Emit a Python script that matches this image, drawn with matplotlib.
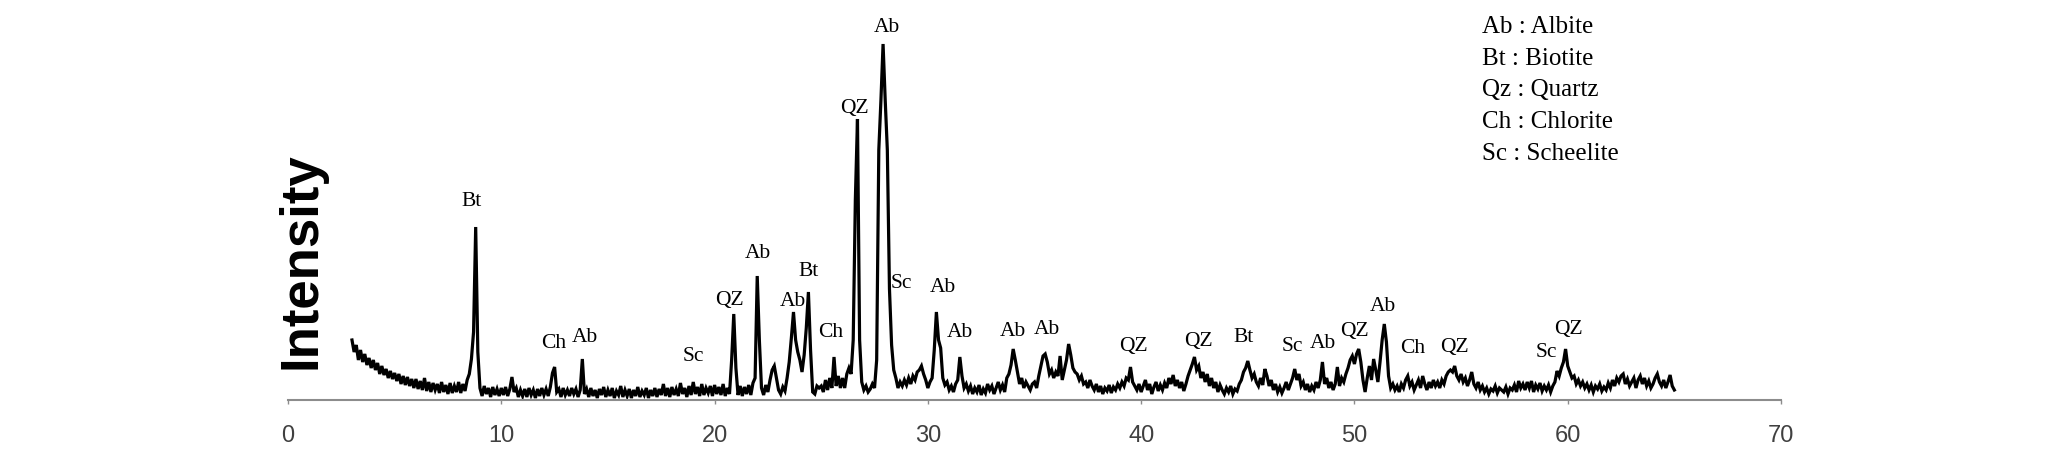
import numpy as np
import matplotlib.pyplot as plt

# XRD trace, 0.1 degree steps from 2theta = 3.0, heights in px above the axis
i_03_12 = [
    60, 48, 55, 40, 50, 38, 46, 35, 42, 32,
    40, 30, 37, 26, 34, 25, 31, 22, 29, 21,
    27, 19, 26, 16, 24, 15, 23, 14, 21, 12,
    21, 11, 19, 10, 22, 9, 18, 8, 17, 10,
    16, 7, 18, 8, 15, 6, 17, 7, 14, 8,
    18, 7, 16, 9, 20, 26, 41, 68, 173, 48,
    12, 4, 14, 6, 12, 3, 13, 5, 11, 4,
    12, 5, 13, 4, 11, 23, 8, 12, 3, 10,
    4, 11, 3, 12, 5, 10, 2, 11, 4, 12,
    5, 11, 4, 13, 27, 33, 8, 11, 3, 12,
]
i_13_22 = [
    5, 10, 4, 12, 6, 11, 3, 10, 41, 6,
    11, 3, 12, 4, 10, 2, 11, 5, 13, 3,
    10, 4, 12, 2, 9, 5, 14, 3, 10, 4,
    11, 2, 10, 4, 13, 3, 9, 5, 12, 2,
    10, 4, 12, 3, 11, 5, 16, 4, 12, 3,
    13, 5, 11, 4, 17, 6, 12, 3, 14, 5,
    18, 6, 13, 4, 16, 5, 12, 7, 14, 4,
    15, 6, 13, 5, 16, 4, 12, 6, 40, 86,
    32, 5, 14, 4, 13, 6, 15, 5, 17, 22,
    124, 60, 12, 5, 15, 8, 20, 30, 34, 22,
]
i_23_32 = [
    10, 6, 13, 9, 22, 38, 62, 88, 60, 48,
    40, 28, 45, 72, 108, 50, 8, 6, 14, 12,
    14, 8, 20, 10, 22, 12, 43, 14, 24, 12,
    22, 12, 26, 32, 26, 60, 200, 281, 60, 18,
    10, 14, 8, 11, 16, 12, 40, 250, 300, 356,
    300, 250, 111, 55, 30, 22, 12, 18, 14, 20,
    15, 22, 16, 24, 20, 28, 30, 34, 26, 20,
    12, 18, 22, 50, 88, 60, 52, 22, 15, 18,
    10, 14, 8, 16, 20, 43, 24, 12, 16, 9,
    14, 6, 12, 8, 15, 5, 11, 7, 16, 10,
]
i_33_42 = [
    14, 6, 12, 18, 10, 15, 8, 22, 26, 35,
    51, 40, 28, 16, 22, 12, 18, 14, 10, 16,
    18, 12, 24, 34, 44, 46, 38, 26, 30, 22,
    28, 24, 44, 20, 30, 40, 56, 45, 32, 28,
    26, 20, 24, 16, 18, 12, 20, 14, 10, 16,
    8, 14, 6, 12, 9, 15, 7, 13, 10, 16,
    12, 18, 14, 22, 20, 33, 18, 14, 10, 16,
    8, 14, 20, 10, 16, 6, 13, 18, 9, 15,
    10, 17, 12, 22, 16, 25, 14, 20, 12, 18,
    9, 16, 24, 30, 36, 43, 30, 34, 22, 28,
]
i_43_52 = [
    18, 26, 14, 22, 12, 18, 8, 15, 10, 6,
    12, 8, 14, 6, 11, 9, 16, 20, 28, 32,
    39, 30, 22, 26, 18, 14, 22, 15, 31, 24,
    14, 20, 10, 16, 8, 13, 7, 12, 18, 10,
    16, 22, 31, 20, 26, 14, 18, 10, 16, 8,
    14, 10, 18, 12, 20, 38, 16, 22, 12, 18,
    10, 16, 33, 14, 22, 18, 26, 32, 40, 44,
    36, 46, 51, 38, 20, 8, 22, 34, 20, 41,
    30, 18, 38, 60, 76, 58, 24, 12, 16, 10,
    14, 8, 16, 12, 20, 24, 14, 18, 10, 15,
]
i_53_65 = [
    20, 12, 24, 16, 10, 18, 12, 20, 14, 18,
    12, 20, 16, 24, 28, 30, 28, 34, 24, 20,
    26, 18, 22, 14, 20, 28, 16, 12, 18, 10,
    14, 8, 12, 6, 11, 9, 14, 7, 12, 10,
    8, 13, 6, 12, 10, 15, 8, 19, 12, 16,
    10, 18, 12, 19, 8, 15, 11, 17, 9, 14,
    10, 15, 8, 14, 18, 29, 24, 32, 38, 51,
    34, 28, 22, 24, 16, 20, 14, 18, 12, 16,
    10, 15, 8, 14, 11, 16, 9, 13, 10, 17,
    12, 20, 14, 22, 18, 24, 26, 16, 21, 14,
    18, 22, 12, 20, 24, 16, 22, 14, 19, 12,
    16, 22, 26, 18, 14, 20, 12, 18, 25, 14,
    10,
]

peak_names = ['Bt', 'Ch', 'Ab', 'Sc', 'QZ', 'Ab', 'Ab', 'Bt', 'Ch', 'QZ', 'Ab', 'Sc', 'Ab', 'Ab',
              'Ab', 'Ab', 'QZ', 'QZ', 'Bt', 'Sc', 'Ab', 'QZ', 'Ab', 'Ch', 'QZ', 'Sc', 'QZ']
peak_x = [8.61, 12.44, 13.92, 19.0, 20.69, 22.05, 23.66, 24.39, 25.46, 26.58, 28.07, 28.77, 30.69, 31.5,
          34.0, 35.57, 39.63, 42.68, 44.79, 47.1, 48.54, 49.98, 51.35, 52.73, 54.71, 59.01, 60.02]
peak_y = [200, 57, 63, 44, 101, 147, 99, 130, 68, 293, 374, 118, 113, 68,
          69, 71, 54, 59, 63, 54, 57, 69, 94, 52, 53, 48, 71]

legend_lines = ['Ab : Albite', 'Bt : Biotite', 'Qz : Quartz', 'Ch : Chlorite', 'Sc : Scheelite']

intensity = np.array(i_03_12 + i_13_22 + i_23_32 + i_33_42 + i_43_52 + i_53_65, dtype=float)
two_theta = 3.0 + 0.1 * np.arange(len(intensity))

W, H = 2067, 460
fig = plt.figure(figsize=(W / 100, H / 100), dpi=100)
ax = fig.add_axes([288 / W, 59 / H, 1493 / W, 401 / H])

ax.plot(two_theta, intensity, color='black', lw=2.3, solid_joinstyle='miter')
ax.set_xlim(0, 70)
ax.set_ylim(0, 401)

for s in ['top', 'right', 'left']:
    ax.spines[s].set_visible(False)
ax.spines['bottom'].set_color('#8c8c8c')
ax.spines['bottom'].set_linewidth(1.5)
ax.set_yticks([])
ax.set_xticks(range(0, 71, 10))
ax.tick_params(axis='x', direction='out', length=3, width=1, color='#8c8c8c',
               labelsize=17, labelcolor='#404040', pad=14)
for lab in ax.get_xticklabels():
    lab.set_family('Liberation Sans')

for name, x, y in zip(peak_names, peak_x, peak_y):
    ax.text(x, y, name, ha='center', va='center', fontsize=15.5,
            family='Liberation Serif', clip_on=False)

for k, line in enumerate(legend_lines):
    fig.text(1482 / W, 1 - (27 + 31.7 * k) / H, line, ha='left', va='center',
             fontsize=18, family='Liberation Serif')

fig.text(302 / W, 1 - 261 / H, 'Intensity', rotation=90, ha='center', va='center',
         fontsize=38, fontweight='bold', family='Liberation Sans')

fig.savefig('out.png', dpi=100)
